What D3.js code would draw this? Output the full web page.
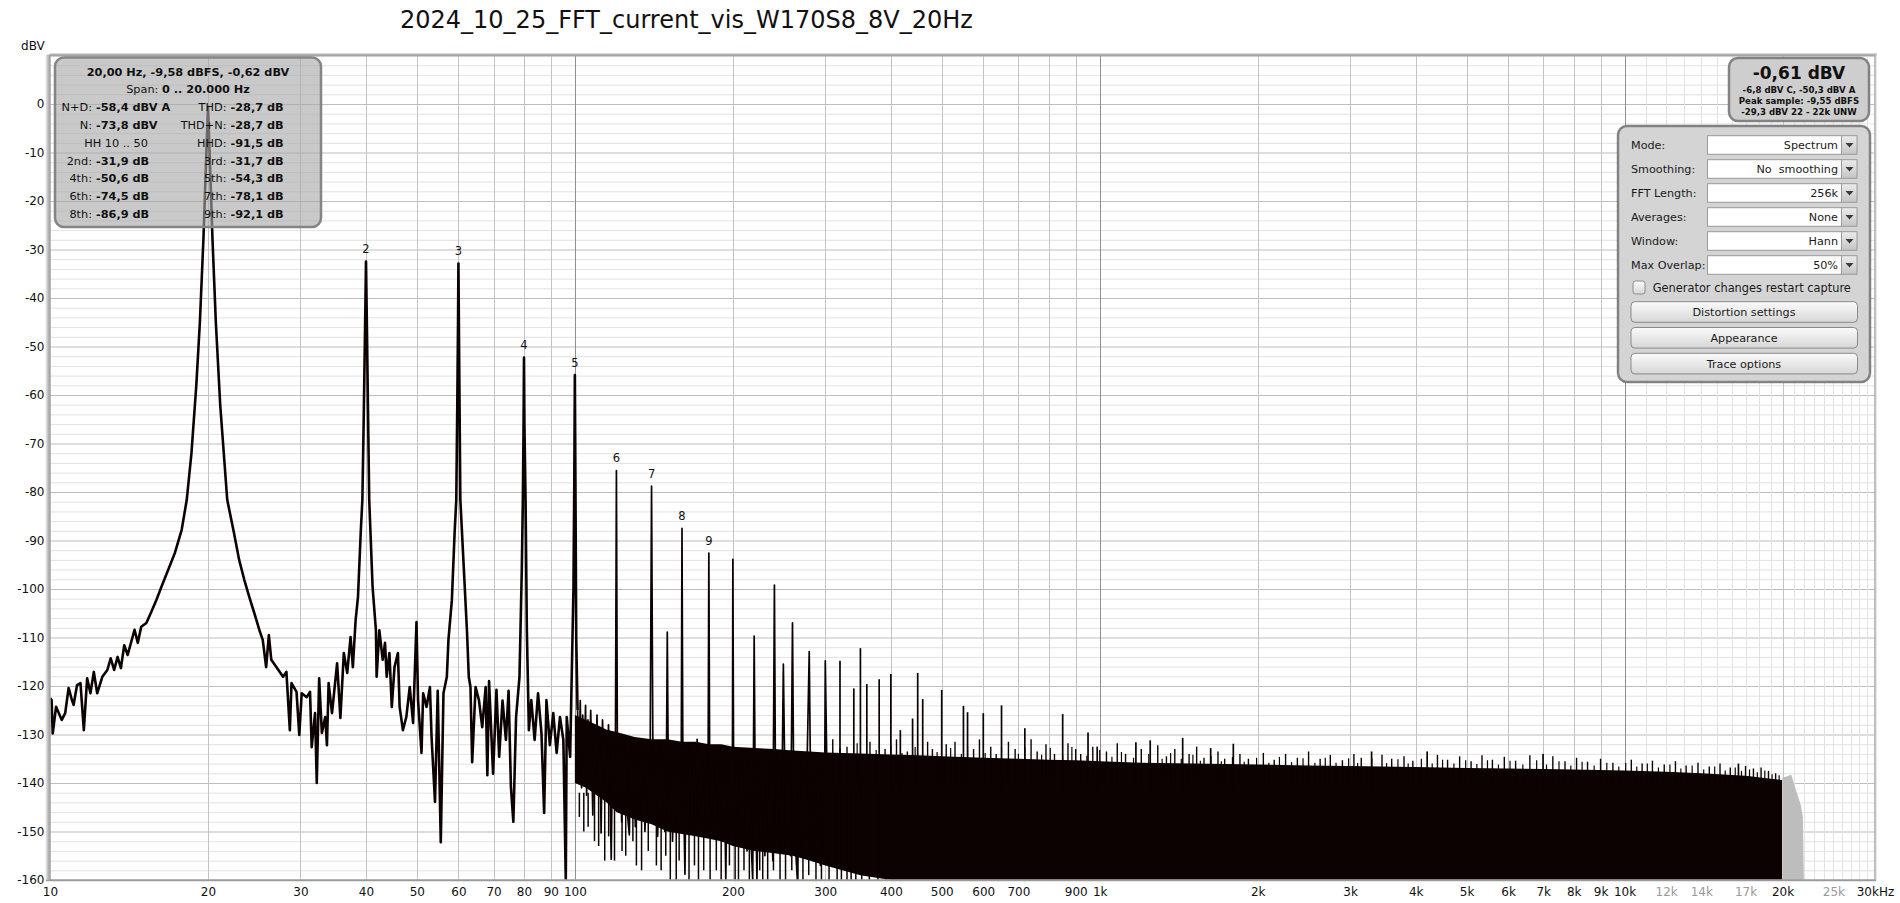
<!DOCTYPE html>
<html><head><meta charset="utf-8">
<script src="https://cdn.jsdelivr.net/npm/d3@7"></script>
<style>
html,body{margin:0;padding:0;background:#fff;}
svg{display:block;font-family:"DejaVu Sans",sans-serif;}
</style></head><body>
<svg id="chart" width="1900" height="903"></svg>
<script>
// ---------------- DATA ----------------
const chartTitle = "2024_10_25_FFT_current_vis_W170S8_8V_20Hz";

// x ticks
const xTickHz = [10,20,30,40,50,60,70,80,90,100,200,300,400,500,600,700,900,1000,2000,3000,4000,5000,6000,7000,8000,9000,10000,12000,14000,17000,20000,25000,30000];
const xTickLabels = ["10","20","30","40","50","60","70","80","90","100","200","300","400","500","600","700","900","1k","2k","3k","4k","5k","6k","7k","8k","9k","10k","12k","14k","17k","20k","25k","30kHz"];
const xTickGray = [12000,14000,17000,25000];
// y ticks
const yTickDb = [0,-10,-20,-30,-40,-50,-60,-70,-80,-90,-100,-110,-120,-130,-140,-150,-160];

// spectrum trace 10 Hz .. 101 Hz  [Hz, dBV]
const lowTrace = [[10.0,-122.5],[10.07,-122.9],[10.12,-129.8],[10.27,-124.3],[10.53,-127.0],[10.69,-125.6],[10.85,-120.4],[11.01,-122.9],[11.09,-123.9],[11.26,-119.8],[11.43,-119.4],[11.60,-129.1],[11.77,-118.4],[11.94,-121.5],[12.12,-117.1],[12.30,-121.5],[12.58,-118.1],[12.86,-116.7],[13.05,-114.3],[13.25,-116.7],[13.45,-114.0],[13.65,-116.3],[13.85,-111.6],[14.06,-113.6],[14.49,-108.4],[14.70,-111.1],[14.92,-107.8],[15.26,-107.0],[15.60,-104.7],[15.94,-102.3],[16.30,-99.6],[16.79,-96.1],[17.29,-92.6],[17.82,-87.8],[18.22,-81.6],[18.6,-72],[19.0,-58],[19.3,-45],[19.6,-28],[19.8,-14],[20.0,-0.6],[20.2,-14],[20.4,-28],[20.7,-45],[21.1,-62],[21.76,-81.6],[22.42,-88.5],[22.93,-94.0],[23.45,-98.1],[23.97,-101.6],[24.51,-105],[25.06,-108.5],[25.43,-110.5],[25.81,-116.1],[26.12,-109.5],[26.40,-114.6],[26.99,-116.1],[27.80,-118.1],[28.21,-117.1],[28.64,-129.1],[28.85,-119.4],[29.49,-121.2],[29.85,-130.1],[30.17,-121.5],[30.84,-122.3],[31.29,-121.2],[31.52,-132.6],[31.99,-125.6],[32.23,-140],[32.57,-118.4],[32.96,-129.7],[33.45,-126.4],[33.70,-132.2],[33.95,-119.4],[34.46,-125.6],[35.24,-115.3],[35.75,-126.6],[36.29,-113.2],[36.84,-117.3],[37.38,-109.9],[37.76,-116.1],[38.22,-106.4],[38.62,-101.6],[39.08,-88.5],[39.37,-81.6],[39.6,-65],[39.85,-45],[40.0,-32.5],[40.15,-45],[40.35,-63],[40.57,-81.6],[41.17,-99.5],[41.78,-108.5],[41.91,-118.1],[42.41,-108.5],[43.04,-114.6],[43.48,-111.1],[43.80,-118.1],[44.33,-113.2],[44.79,-124.3],[45.33,-116.1],[46.01,-113.2],[46.36,-124.3],[47.03,-129.1],[47.74,-126.4],[48.46,-120.2],[49.18,-127.6],[49.92,-106.8],[50.26,-122.9],[51.03,-133.8],[51.40,-121.5],[52.18,-124.3],[52.95,-120.2],[53.33,-130.5],[54.14,-143.9],[54.79,-121],[55.53,-152.2],[56.19,-121.5],[57.03,-118.1],[57.43,-110.5],[58.30,-102.3],[59.00,-88.5],[59.44,-81.6],[59.7,-62],[59.9,-45],[60.0,-32.9],[60.12,-45],[60.3,-62],[60.51,-81.6],[61.42,-95.5],[62.32,-109.1],[62.79,-118.1],[63.26,-120.2],[63.73,-135.7],[64.69,-120.2],[65.65,-122.9],[66.61,-128.5],[67.62,-120.2],[68.12,-138.4],[68.63,-119],[69.85,-138.1],[70.90,-120.8],[71.74,-134.6],[72.81,-123],[73.9,-131.1],[74.77,-121],[75.54,-140.8],[76.35,-148],[77.27,-126.4],[78.43,-118.1],[79.25,-95.5],[79.6,-81.6],[79.85,-66],[80.0,-52.3],[80.15,-66],[80.55,-81.6],[81.01,-108.5],[81.73,-129.1],[82.6,-122.9],[83.82,-131.1],[85.09,-121.5],[86.37,-129.7],[87.39,-146.2],[88.28,-122.9],[89.61,-132.2],[90.96,-125.6],[92.32,-133.8],[93.67,-126.4],[95.08,-131.1],[96.1,-160],[96.5,-126.4],[97.95,-134.6],[99.38,-100],[99.75,-78],[100.0,-55.9],[100.25,-78],[100.6,-110],[101.2,-125]];

// spectrum trace 101 Hz .. 302 Hz  [Hz, dBV]
const midTrace = [[101.2,-125],[101.8,-138],[102.4,-123],[103.0,-141],[103.5,-126],[104.2,-135],[104.8,-124],[105.3,-142.5],[105.9,-127],[106.5,-137],[107.2,-125],[108.2,-146.6],[108.8,-128],[109.5,-139],[110.2,-126],[110.9,-141],[111.6,-129],[112.2,-150.3],[112.9,-127],[113.7,-140],[114.4,-130],[115.2,-143],[115.9,-128],[116.6,-139],[117.3,-155.7],[118,-131],[118.8,-141],[119.5,-130],[120,-75.6],[120.5,-132],[121.2,-146],[122,-131],[122.8,-148],[123.6,-132],[124.4,-143],[125.2,-133],[126.1,-147],[127,-150.7],[127.8,-132],[128.6,-145],[129.5,-134],[130.4,-149],[131.3,-131],[132.2,-146],[133,-133],[134,-144],[135,-132],[136,-150],[137.2,-134],[138.2,-146],[139.2,-131],[140,-78.8],[140.8,-133],[141.8,-148],[142.8,-134],[143.8,-151],[144.8,-132],[146,-147],[147.2,-134],[148.4,-150],[149.5,-133],[150,-108.9],[150.6,-135],[151.8,-149],[153,-132],[153.5,-152],[154.6,-135],[155.8,-147],[157,-133],[158.3,-150],[159.5,-134],[160,-87.5],[160.6,-134],[161.5,-149],[162.1,-158.8],[163,-133],[164.3,-148],[165.6,-132],[167,-150],[168.4,-134],[169.8,-146],[171,-131],[172.5,-151],[174,-135],[175.5,-148],[177,-133],[178.5,-150],[179.5,-131],[180,-92.6],[180.6,-132],[182,-147],[183.5,-134],[185,-151],[186.5,-133],[188,-149],[189.5,-135],[191,-152],[192.5,-134],[193.9,-159.9],[195.3,-133],[196.8,-148],[198.3,-134],[199.5,-150],[200,-93.9],[200.6,-133],[202.3,-150],[204,-134],[205.8,-153],[207.5,-135],[209.3,-149],[211,-133],[212.8,-154],[214.6,-134],[216.4,-151],[218.2,-160],[219.6,-109.7],[220.4,-135],[222.3,-160],[224.2,-134],[226.2,-152],[228.2,-136],[230.2,-155],[232.2,-134],[234.2,-151],[236.2,-135],[238.3,-156],[240,-99.2],[241,-136],[243,-152],[245.2,-135],[247.4,-154],[249.6,-115.5],[251,-136],[253.2,-152],[255.4,-135],[257.6,-155],[259.8,-107],[261,-136],[263.2,-153],[265.4,-160],[267.6,-135],[270,-154],[272.4,-136],[274.8,-152],[277.2,-134],[279.6,-112.9],[281,-136],[283.5,-156],[286,-135],[288.5,-153],[291,-136],[293.6,-157],[296.2,-135],[298.8,-154],[300,-114.8],[302,-136]];

// dense noise band (solid core of the FFT trace)
const bandHz       = [100,105,110,115,120,130,140,150,160,170,180,190,200,220,240,260,280,300,350,400,450,500,600,700,800,900,1000,1200,1500,2000,2500,3000,4000,5000,6000,7000,8000,10000,12000,14000,17000,19000,19950];
const bandTopDb    = [-126,-127,-128,-129,-129.5,-130.5,-131,-131,-131.5,-131.5,-132,-132,-132.5,-132.8,-133,-133.3,-133.5,-133.7,-133.9,-134.1,-134.3,-134.5,-134.8,-135,-135.2,-135.3,-135.5,-135.8,-136,-136.2,-136.4,-136.5,-136.7,-136.9,-137,-137.1,-137.2,-137.4,-137.7,-138,-138.5,-139.1,-139.4];
const bandBottomDb = [-140,-141,-142.5,-144,-146,-147.5,-148.5,-150,-150.5,-151,-151.5,-152,-153,-154,-154.5,-155,-156,-157,-159,-160,-160,-160,-160,-160,-160,-160,-160,-160,-160,-160,-160,-160,-160,-160,-160,-160,-160,-160,-160,-160,-160,-160,-160];

// discrete spectral lines standing above the noise  [Hz, dBV]
const spikeLines = [[320,-114.8],[340,-120.5],[350,-112.2],[360,-119.6],[380,-118.6],[400,-117.5],[417,-129.1],[440,-126.7],[450,-117.3],[460,-122.7],[500,-120.8],[550,-124.1],[560,-125.4],[600,-125.6],[650,-124],[720,-128.7],[850,-125.8],[950,-129.6],[989,-132.5],[1172,-131.6],[1248,-131.2],[1439,-130.7],[1627,-132.8],[1797,-131.9],[3296,-133.5],[4206,-133.5],[6993,-134],[16480,-136]];

// ragged upper edge of the noise  [Hz, dBV]
const noiseFuzz = [[310,-131],[330,-132.5],[365,-131.5],[390,-133],[410,-131],[430,-133.5],[470,-131.5],[480,-133],[510,-132],[530,-131.5],[575,-133],[590,-131],[620,-132.5],[635,-134],[670,-131.5],[690,-133],[740,-131],[760,-133.5],[790,-132],[820,-134],[870,-131.8],[900,-133],[920,-134],[970,-132.5],[1030,-133.5],[1080,-131.8],[1120,-134],[1200,-133],[1290,-132.2],[1340,-134.5],[1390,-133],[1480,-134],[1530,-132.5],[1580,-134.8],[1680,-133.5],[1730,-135],[1850,-134],[1920,-135],[2050,-133.8],[2150,-135.2],[2260,-134],[2380,-134.8],[2500,-133.5],[2630,-135],[2750,-134.2],[2900,-135.3],[3050,-134],[3150,-134.8],[3450,-134.2],[3600,-135],[3800,-134.5],[3950,-135.4],[4400,-134.2],[4600,-135.2],[4850,-134.5],[5100,-135.5],[5350,-134.3],[5600,-135.2],[5900,-134.6],[6200,-135.4],[6600,-134.3],[7300,-134.5],[7700,-135.5],[8100,-134.8],[8500,-135.6],[9000,-135],[9500,-135.8],[10300,-135.2],[10800,-136],[11300,-135.4],[11900,-136.2],[12500,-135.5],[13100,-136.4],[13800,-135.8],[14500,-136.6],[15200,-136],[15900,-136.8],[17000,-136.5],[17600,-137],[18200,-136.8],[18800,-137.5],[19400,-138]];
const noiseFuzz2 = [[320,-132.8],[345,-131.8],[375,-133.2],[400,-132.2],[420,-133.8],[445,-132.6],[490,-133.6],[520,-132.8],[545,-134],[560,-132.4],[605,-133.8],[650,-132.6],[700,-134],[720,-132.6],[775,-134.2],[805,-132.8],[850,-134.3],[885,-132.6],[945,-134.4],[1000,-133.2],[1055,-134.6],[1100,-133.6],[1160,-134.8],[1240,-134],[1315,-135],[1365,-133.8],[1430,-135],[1505,-134.2],[1555,-135.4],[1630,-134.4],[1705,-135.5],[1790,-134.6],[1885,-135.6],[1990,-134.8],[2100,-135.8],[2200,-134.6],[2320,-135.7],[2440,-134.9],[2570,-135.8],[2690,-134.8],[2820,-135.8],[2980,-134.9],[3100,-135.9],[3300,-135],[3520,-135.9],[3700,-135.1],[3870,-136],[4100,-135],[4300,-136],[4500,-135.2],[4730,-136],[4980,-135.3],[5230,-136.1],[5480,-135.3],[5750,-136.2],[6050,-135.4],[6400,-136.2],[6800,-135.3],[7100,-136.2],[7500,-135.5],[7900,-136.4],[8300,-135.6],[8750,-136.4],[9250,-135.8],[9750,-136.6],[10050,-135.9],[10550,-136.6],[11050,-136],[11600,-136.8],[12200,-136.2],[12800,-137],[13450,-136.4],[14150,-137.2],[14850,-136.6],[15550,-137.4],[16250,-136.8],[16700,-137.5],[17300,-137.2],[17900,-137.8],[18500,-137.4],[19100,-138.2],[19700,-138.4]];

// deep drops below the noise core  [Hz, dBV]
const noiseDrops = [[102,-147],[104,-150],[106,-149],[109,-152],[111,-153],[114,-156],[116,-151],[119,-156],[123,-154],[125,-155],[129,-152],[131,-157],[134,-158],[138,-154],[143,-157],[146,-158],[149,-155],[152,-160],[156,-160],[158,-156],[165,-160],[169,-157],[172,-160],[176,-158],[181,-160],[186,-158],[190,-160],[197,-157],[202,-160],[205,-160],[210,-158],[215,-160],[225,-158],[228,-160],[233,-160],[239,-158],[246,-160],[252,-160],[259,-158],[266,-160],[272,-160],[279,-159],[288,-160],[295,-160],[305,-160],[316,-160],[322,-160],[330,-160],[336,-160],[343,-160],[352,-160],[364,-160],[378,-160],[392,-160]];

// out-of-band (above 20 kHz) grey part  [Hz, dBV]
const aliasHz = [19970,20420,20780,21010,21200,21480,21670,21860,21960];
const aliasDb = [-138.9,-138.6,-138.3,-140,-141.4,-143.3,-144.6,-147,-160];

// harmonic markers
const harmonicHz     = [40,60,80,100,120,140,160,180];
const harmonicPeakDb = [-32.5,-32.9,-52.3,-55.9,-75.6,-78.8,-87.5,-92.6];
const harmonicLabel  = ["2","3","4","5","6","7","8","9"];

// info box texts
const infoLine1 = "20,00 Hz, -9,58 dBFS, -0,62 dBV";
const infoSpanLabel = "Span: ", infoSpanValue = "0 .. 20.000 Hz";
const infoRows = [
  {l:"N+D:", lv:"-58,4 dBV A", r:"THD:", rv:"-28,7 dB"},
  {l:"N:", lv:"-73,8 dBV", r:"THD+N:", rv:"-28,7 dB"},
  {c:"HH 10 .. 50", r:"HHD:", rv:"-91,5 dB"},
  {l:"2nd:", lv:"-31,9 dB", r:"3rd:", rv:"-31,7 dB"},
  {l:"4th:", lv:"-50,6 dB", r:"5th:", rv:"-54,3 dB"},
  {l:"6th:", lv:"-74,5 dB", r:"7th:", rv:"-78,1 dB"},
  {l:"8th:", lv:"-86,9 dB", r:"9th:", rv:"-92,1 dB"}];
const levelMain = "-0,61 dBV";
const levelLines = ["-6,8 dBV C, -50,3 dBV A","Peak sample: -9,55 dBFS","-29,3 dBV 22 - 22k UNW"];
const panelLabels = ["Mode:","Smoothing:","FFT Length:","Averages:","Window:","Max Overlap:"];
const panelValues = ["Spectrum","No  smoothing","256k","None","Hann","50%"];
const panelCheck = "Generator changes restart capture";
const panelButtons = ["Distortion settings","Appearance","Trace options"];

// ---------------- DRAW ----------------
const svg = d3.select("#chart");
const L = 50, R = 1875, T = 55.5, B = 880;
const x = d3.scaleLog().domain([10,30000]).range([L,R]);
const y = d3.scaleLinear().domain([-160,10]).range([B,T]);

const defs = svg.append("defs");
defs.append("clipPath").attr("id","plotClip").append("rect")
  .attr("x",L).attr("y",T).attr("width",R-L).attr("height",B-T);
const g1 = defs.append("linearGradient").attr("id","btnGrad").attr("x1",0).attr("y1",0).attr("x2",0).attr("y2",1);
g1.append("stop").attr("offset","0%").attr("stop-color","#fbfbfb");
g1.append("stop").attr("offset","100%").attr("stop-color","#d6d6d6");
const g2 = defs.append("linearGradient").attr("id","arrGrad").attr("x1",0).attr("y1",0).attr("x2",0).attr("y2",1);
g2.append("stop").attr("offset","0%").attr("stop-color","#ececec");
g2.append("stop").attr("offset","100%").attr("stop-color","#c4c4c4");
const g3 = defs.append("linearGradient").attr("id","edgeGrad").attr("x1",0).attr("y1",0).attr("x2",1).attr("y2",0);
g3.append("stop").attr("offset","0%").attr("stop-color","#ececec");
g3.append("stop").attr("offset","100%").attr("stop-color","#9c9c9c");

// title
svg.append("text").attr("x",400).attr("y",28).attr("font-size",24).attr("fill","#111")
  .text(chartTitle);

// plot background
svg.append("rect").attr("x",L).attr("y",T).attr("width",R-L).attr("height",B-T).attr("fill","#fff");

// grid
const grid = svg.append("g").attr("clip-path","url(#plotClip)");
const hLines = d3.range(-160, 11, 2);
grid.selectAll("line.h").data(hLines).enter().append("line")
  .attr("x1",L).attr("x2",R).attr("y1",d=>y(d)+0.5).attr("y2",d=>y(d)+0.5)
  .attr("stroke",d=> d%10===0 ? "#bdbdbd" : "#e2e2e2").attr("stroke-width",1);
const vLines = [];
[10,100,1000].forEach(dec=>{ for(let m=2;m<=9;m++) vLines.push({f:dec*m, c:"#c3c3c3"}); });
[100,1000,10000].forEach(f=>vLines.push({f:f, c:"#8f8f8f"}));
for(let k=11;k<=29;k++){ if(k!==20) vLines.push({f:k*1000, c:"#e2e2e2"}); }
vLines.push({f:20000, c:"#c3c3c3"});
grid.selectAll("line.v").data(vLines).enter().append("line")
  .attr("x1",d=>Math.round(x(d.f))+0.5).attr("x2",d=>Math.round(x(d.f))+0.5)
  .attr("y1",T).attr("y2",B).attr("stroke",d=>d.c).attr("stroke-width",1);

// spectrum
const plot = svg.append("g").attr("clip-path","url(#plotClip)");
const traceColor = "#0d0202";
// band
const bandData = bandHz.map((f,i)=>({f, t:bandTopDb[i], b:bandBottomDb[i]}));
plot.append("path").datum(bandData)
  .attr("d", d3.area().x(d=>x(d.f)).y0(d=>y(d.b)).y1(d=>y(d.t)))
  .attr("fill", traceColor);
// alias region
const aliasData = aliasHz.map((f,i)=>({f, v:aliasDb[i]}));
plot.append("path").datum(aliasData)
  .attr("d", d3.area().x(d=>x(d.f)).y0(y(-160)).y1(d=>y(d.v)))
  .attr("fill","#bdbdbd");
// fuzz / spikes / drops
plot.selectAll("line.fz").data(noiseFuzz).enter().append("line")
  .attr("x1",d=>x(d[0])).attr("x2",d=>x(d[0])).attr("y1",d=>y(d[1])).attr("y2",y(-140))
  .attr("stroke",traceColor).attr("stroke-width",1.4);
plot.selectAll("line.fz2").data(noiseFuzz2).enter().append("line")
  .attr("x1",d=>x(d[0])).attr("x2",d=>x(d[0])).attr("y1",d=>y(d[1])).attr("y2",y(-140))
  .attr("stroke",traceColor).attr("stroke-width",1.2);
plot.selectAll("line.sp").data(spikeLines).enter().append("line")
  .attr("x1",d=>x(d[0])).attr("x2",d=>x(d[0])).attr("y1",d=>y(d[1])).attr("y2",y(-142))
  .attr("stroke",traceColor).attr("stroke-width",1.7);
plot.selectAll("line.dr").data(noiseDrops).enter().append("line")
  .attr("x1",d=>x(d[0])).attr("x2",d=>x(d[0])).attr("y1",y(-142)).attr("y2",d=>y(d[1]))
  .attr("stroke",traceColor).attr("stroke-width",1.5);
// line traces
const line = d3.line().x(d=>x(d[0])).y(d=>y(d[1]));
plot.append("path").datum(midTrace).attr("d",line)
  .attr("fill","none").attr("stroke",traceColor).attr("stroke-width",1.7).attr("stroke-linejoin","round");
plot.append("path").datum(lowTrace).attr("d",line)
  .attr("fill","none").attr("stroke",traceColor).attr("stroke-width",2.6).attr("stroke-linejoin","round");

// harmonic labels
svg.selectAll("text.hl").data(harmonicHz).enter().append("text")
  .attr("x",d=>x(d)).attr("y",(d,i)=>y(harmonicPeakDb[i])-8.5)
  .attr("text-anchor","middle").attr("font-size",11.5).attr("fill","#111")
  .text((d,i)=>harmonicLabel[i]);

// frame
svg.append("rect").attr("x",45.5).attr("y",T-1).attr("width",4.5).attr("height",B-T+2).attr("fill","url(#edgeGrad)");
svg.append("rect").attr("x",L).attr("y",T-2).attr("width",R-L+2).attr("height",2).attr("fill","#b4b4b4");
svg.append("rect").attr("x",L).attr("y",T).attr("width",R-L).attr("height",B-T)
  .attr("fill","none").attr("stroke","#a4a4a4").attr("stroke-width",1.5);
svg.append("line").attr("x1",R+1).attr("x2",R+1).attr("y1",T-2).attr("y2",B+1).attr("stroke","#cfcfcf").attr("stroke-width",1);
svg.append("line").attr("x1",L-4).attr("x2",R+1).attr("y1",B+0.5).attr("y2",B+0.5).attr("stroke","#9a9a9a").attr("stroke-width",1.5);

// axes
const xAxis = d3.axisBottom(x).tickValues(xTickHz).tickFormat((d,i)=>xTickLabels[i]).tickSize(0).tickPadding(7.5);
const gx = svg.append("g").attr("transform",`translate(0,${B})`).call(xAxis);
gx.select(".domain").remove();
gx.selectAll("text").attr("font-family","DejaVu Sans").attr("font-size",12)
  .attr("fill",d=> xTickGray.includes(d) ? "#9a9a9a" : "#111");
const yAxis = d3.axisLeft(y).tickValues(yTickDb).tickFormat(d=>String(d)).tickSize(0).tickPadding(5.5);
const gy = svg.append("g").attr("transform",`translate(${L},0)`).call(yAxis);
gy.select(".domain").remove();
gy.selectAll("text").attr("font-family","DejaVu Sans").attr("font-size",12).attr("fill","#111");
svg.append("text").attr("x",44.8).attr("y",49.5).attr("text-anchor","end").attr("font-size",12).attr("fill","#111").text("dBV");

// info box
const ib = svg.append("g");
ib.append("rect").attr("x",55).attr("y",57.5).attr("width",266).attr("height",169.5).attr("rx",9)
  .attr("fill","rgb(168,168,168)").attr("fill-opacity",0.62).attr("stroke","#858585").attr("stroke-width",2.5);
const ibFont = 11.3;
ib.append("text").attr("x",188).attr("y",75.5).attr("text-anchor","middle").attr("font-size",ibFont)
  .attr("font-weight","bold").attr("fill","#111").text(infoLine1);
const sp = ib.append("text").attr("x",188).attr("y",93.3).attr("text-anchor","middle").attr("font-size",ibFont).attr("fill","#111");
sp.append("tspan").text(infoSpanLabel);
sp.append("tspan").attr("font-weight","bold").text(infoSpanValue);
infoRows.forEach((r,i)=>{
  const yy = 111.1 + i*17.8;
  if (r.c) {
    ib.append("text").attr("x",116).attr("y",yy).attr("text-anchor","middle").attr("font-size",ibFont).attr("fill","#111").text(r.c);
  } else {
    ib.append("text").attr("x",92).attr("y",yy).attr("text-anchor","end").attr("font-size",ibFont).attr("fill","#111").text(r.l);
    ib.append("text").attr("x",96).attr("y",yy).attr("font-size",ibFont).attr("font-weight","bold").attr("fill","#111").text(r.lv);
  }
  ib.append("text").attr("x",226.5).attr("y",yy).attr("text-anchor","end").attr("font-size",ibFont).attr("fill","#111").text(r.r);
  ib.append("text").attr("x",230.5).attr("y",yy).attr("font-size",ibFont).attr("font-weight","bold").attr("fill","#111").text(r.rv);
});

// level box (top right)
const lb = svg.append("g");
lb.append("rect").attr("x",1729).attr("y",58).attr("width",140).attr("height",63).attr("rx",9)
  .attr("fill","#cecece").attr("stroke","#828282").attr("stroke-width",2.5);
lb.append("text").attr("x",1799).attr("y",78.5).attr("text-anchor","middle").attr("font-size",17).attr("font-weight","bold").attr("fill","#111").text(levelMain);
levelLines.forEach((t,i)=>{
  lb.append("text").attr("x",1799).attr("y",92.5+i*11.2).attr("text-anchor","middle").attr("font-size",8.6)
    .attr("font-weight","bold").attr("fill","#111").text(t);
});

// control panel
const cp = svg.append("g");
cp.append("rect").attr("x",1618).attr("y",126).attr("width",252).attr("height",256).attr("rx",9)
  .attr("fill","#d4d4d4").attr("stroke","#828282").attr("stroke-width",2.5);
panelLabels.forEach((t,i)=>{
  const cy = 145 + i*24;
  cp.append("text").attr("x",1631).attr("y",cy+4).attr("font-size",11.2).attr("fill","#1a1a1a").text(t);
  cp.append("rect").attr("x",1707.5).attr("y",cy-9.3).attr("width",134).attr("height",18.6)
    .attr("fill","#fff").attr("stroke","#9a9a9a").attr("stroke-width",1);
  cp.append("rect").attr("x",1841.5).attr("y",cy-9.3).attr("width",15.5).attr("height",18.6)
    .attr("fill","url(#arrGrad)").attr("stroke","#9a9a9a").attr("stroke-width",1);
  cp.append("path").attr("d",`M${1845.5},${cy-2} L${1853.5},${cy-2} L${1849.5},${cy+2.5} Z`).attr("fill","#3c3c3c");
  cp.append("text").attr("x",1838).attr("y",cy+4).attr("text-anchor","end").attr("font-size",11.2)
    .attr("fill","#1a1a1a").style("white-space","pre").text(panelValues[i]);
});
cp.append("rect").attr("x",1633).attr("y",281).attr("width",12).attr("height",13).attr("rx",2.5)
  .attr("fill","url(#btnGrad)").attr("stroke","#8c8c8c");
cp.append("text").attr("x",1652.7).attr("y",291.5).attr("font-size",11.4).attr("fill","#1a1a1a").text(panelCheck);
panelButtons.forEach((t,i)=>{
  const by = 301.7 + i*25.8;
  cp.append("rect").attr("x",1631).attr("y",by).attr("width",226.5).attr("height",20.6).attr("rx",4)
    .attr("fill","url(#btnGrad)").attr("stroke","#8a8a8a").attr("stroke-width",1);
  cp.append("text").attr("x",1744).attr("y",by+14.5).attr("text-anchor","middle").attr("font-size",11.2)
    .attr("fill","#1a1a1a").text(t);
});
</script>
</body></html>
